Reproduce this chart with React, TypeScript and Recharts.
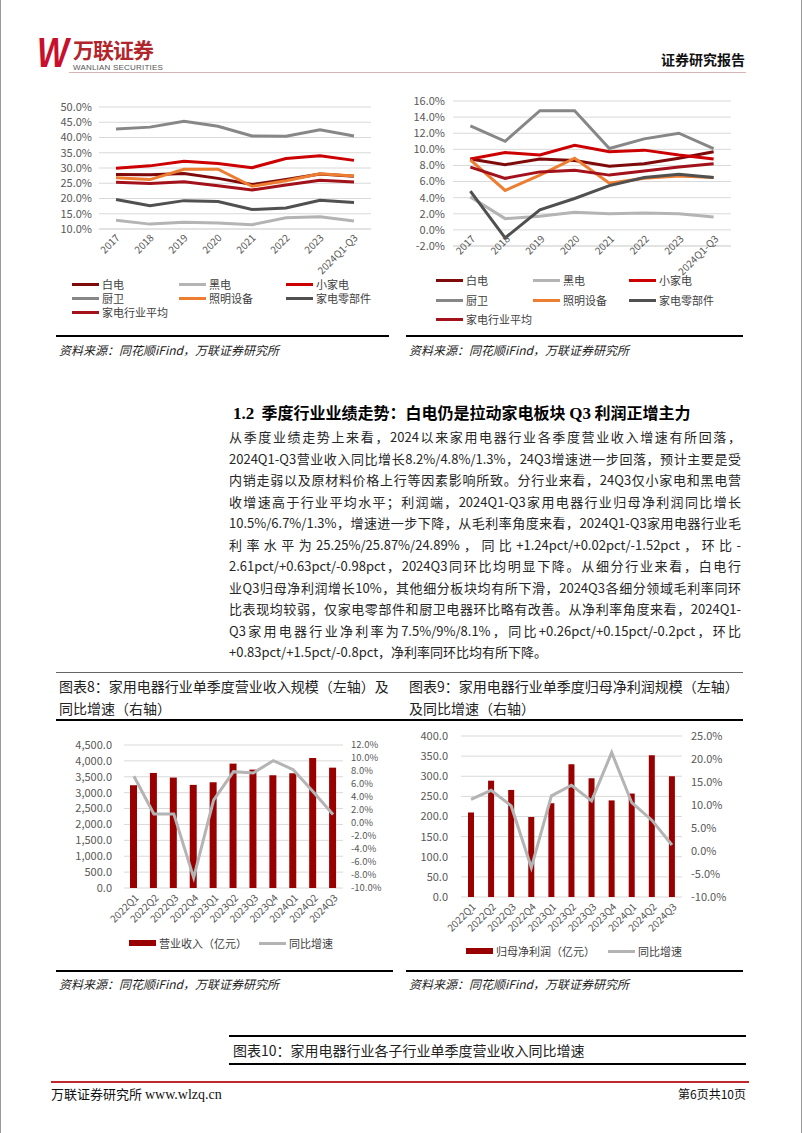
import React from 'react';
import { LineChart, Line, XAxis, YAxis, CartesianGrid, ComposedChart, Bar } from 'recharts';

// ---------- data ----------
const years = ['2017', '2018', '2019', '2020', '2021', '2022', '2023', '2024Q1-Q3'];

const seriesNames = ['白电', '黑电', '小家电', '厨卫', '照明设备', '家电零部件', '家电行业平均'];
const seriesKeys = ['bd', 'hd', 'xjd', 'cw', 'zm', 'lbj', 'avg'];
const seriesColors = ['#7f0a0a', '#b4b4b4', '#cc0000', '#878787', '#ed7d31', '#505050', '#a3111a'];

// gross margin (%)
const grossBaiDian = [27.9, 27.8, 28.2, 26.6, 24.6, 26.2, 28.0, 27.3];
const grossHeiDian = [12.9, 11.6, 12.2, 12.0, 11.4, 13.7, 14.0, 12.6];
const grossXiaoJiaDian = [29.9, 30.7, 32.2, 31.5, 30.1, 33.1, 34.0, 32.5];
const grossChuWei = [42.8, 43.4, 45.3, 43.7, 40.5, 40.4, 42.5, 40.5];
const grossZhaoMing = [26.8, 26.2, 29.6, 29.6, 24.0, 25.8, 28.1, 27.4];
const grossLingBuJian = [19.7, 17.6, 19.3, 19.0, 16.4, 16.9, 19.4, 18.7];
const grossAvg = [25.3, 24.9, 25.5, 24.2, 22.8, 24.4, 26.0, 25.4];

// net margin (%)
const netBaiDian = [8.8, 8.1, 8.8, 8.6, 7.9, 8.2, 8.9, 9.7];
const netHeiDian = [4.1, 1.4, 1.7, 2.2, 2.0, 2.1, 2.0, 1.6];
const netXiaoJiaDian = [8.8, 9.6, 9.3, 10.5, 9.7, 9.9, 9.3, 8.8];
const netChuWei = [12.9, 11.0, 14.8, 14.8, 10.1, 11.3, 12.0, 10.1];
const netZhaoMing = [8.7, 4.9, 6.8, 8.9, 5.8, 6.4, 6.7, 6.5];
const netLingBuJian = [4.8, -1.0, 2.5, 3.9, 5.5, 6.5, 6.9, 6.5];
const netAvg = [7.8, 6.4, 7.2, 7.4, 6.8, 7.3, 7.8, 8.2];

const grossTicks = [10, 15, 20, 25, 30, 35, 40, 45, 50];
const netTicks = [-2, 0, 2, 4, 6, 8, 10, 12, 14, 16];

const quarters = ['2022Q1', '2022Q2', '2022Q3', '2022Q4', '2023Q1', '2023Q2', '2023Q3', '2023Q4', '2024Q1', '2024Q2', '2024Q3'];
const revenue = [3234, 3621, 3475, 3245, 3328, 3914, 3726, 3548, 3611, 4092, 3787];
const revenueYoY = [7.2, 1.4, 1.4, -8.4, 3.5, 7.9, 7.7, 9.6, 8.2, 4.8, 1.3];
const profit = [210, 289, 266, 199, 233, 330, 295, 240, 257, 352, 300];
const profitYoY = [11.2, 13.2, 9.8, -3.6, 12.0, 14.3, 10.9, 21.4, 10.5, 6.7, 1.3];

const revenueTicks = [0, 500, 1000, 1500, 2000, 2500, 3000, 3500, 4000, 4500];
const revenueYoYTicks = [-10, -8, -6, -4, -2, 0, 2, 4, 6, 8, 10, 12];
const profitTicks = [0, 50, 100, 150, 200, 250, 300, 350, 400];
const profitYoYTicks = [-10, -5, 0, 5, 10, 15, 20, 25];

const bodyLines = [
  '从季度业绩走势上来看，2024以来家用电器行业各季度营业收入增速有所回落，',
  '2024Q1-Q3营业收入同比增长8.2%/4.8%/1.3%，24Q3增速进一步回落，预计主要是受',
  '内销走弱以及原材料价格上行等因素影响所致。分行业来看，24Q3仅小家电和黑电营',
  '收增速高于行业平均水平；利润端，2024Q1-Q3家用电器行业归母净利润同比增长',
  '10.5%/6.7%/1.3%，增速进一步下降，从毛利率角度来看，2024Q1-Q3家用电器行业毛',
  '利率水平为25.25%/25.87%/24.89%，同比+1.24pct/+0.02pct/-1.52pct，环比-',
  '2.61pct/+0.63pct/-0.98pct，2024Q3同环比均明显下降。从细分行业来看，白电行',
  '业Q3归母净利润增长10%，其他细分板块均有所下滑，2024Q3各细分领域毛利率同环',
  '比表现均较弱，仅家电零部件和厨卫电器环比略有改善。从净利率角度来看，2024Q1-',
  'Q3家用电器行业净利率为7.5%/9%/8.1%，同比+0.26pct/+0.15pct/-0.2pct，环比',
  '+0.83pct/+1.5pct/-0.8pct，净利率同环比均有所下降。',
];

// ---------- helpers ----------
const FONT = "'Noto Sans CJK SC','Noto Sans',sans-serif";
const AXIS_GREY = '#595959';

function buildRows(cats: string[], list: number[][]) {
  return cats.map((c, i) => {
    const r: any = { cat: c };
    seriesKeys.forEach((k, j) => (r[k] = list[j][i]));
    return r;
  });
}
const grossRows = buildRows(years, [grossBaiDian, grossHeiDian, grossXiaoJiaDian, grossChuWei, grossZhaoMing, grossLingBuJian, grossAvg]);
const netRows = buildRows(years, [netBaiDian, netHeiDian, netXiaoJiaDian, netChuWei, netZhaoMing, netLingBuJian, netAvg]);
const revenueRows = quarters.map((q, i) => ({ cat: q, v: revenue[i], yoy: revenueYoY[i] }));
const profitRows = quarters.map((q, i) => ({ cat: q, v: profit[i], yoy: profitYoY[i] }));

const pct1 = (v: number) => v.toFixed(1) + '%';
const num1 = (v: number) => v.toLocaleString('en-US', { minimumFractionDigits: 1, maximumFractionDigits: 1 });

const makeTick = (ox: number, oy: number) => (props: any) => {
  const { x, y, payload } = props;
  return (
    <g transform={`translate(${x + ox},${y + oy})`}>
      <text textAnchor="end" transform="rotate(-45)" dy="0.35em" fontSize={10} fill={AXIS_GREY} fontFamily={FONT}>
        {payload.value}
      </text>
    </g>
  );
};

const yTick = { fontSize: 11, fill: AXIS_GREY, fontFamily: FONT };
const yTickSmall = { fontSize: 9.5, fill: AXIS_GREY, fontFamily: FONT };

function Abs({ left, top, children, style = {} }: any) {
  return <div style={{ position: 'absolute', left, top, ...style }}>{children}</div>;
}

function HLine({ x1, x2, y, h = 1, color = '#000' }: any) {
  return <div style={{ position: 'absolute', left: x1, top: y - h / 2, width: x2 - x1, height: h, background: color }} />;
}

function LineLegend({ cols, rows }: { cols: number[]; rows: number[] }) {
  return (
    <>
      {seriesNames.map((n, i) => {
        const c = cols[i % 3];
        const r = rows[Math.floor(i / 3)];
        return (
          <div key={n} style={{ position: 'absolute', left: c, top: r - 8, height: 16, display: 'flex', alignItems: 'center' }}>
            <div style={{ width: 27, height: 3, background: seriesColors[i] }} />
            <span style={{ marginLeft: 3, fontSize: 11, color: '#404040', fontFamily: FONT }}>{n}</span>
          </div>
        );
      })}
    </>
  );
}

function ComboLegend({ x1, x2, y, barName }: any) {
  return (
    <>
      <div style={{ position: 'absolute', left: x1, top: y - 8, height: 16, display: 'flex', alignItems: 'center' }}>
        <div style={{ width: 27, height: 6, background: '#990000' }} />
        <span style={{ marginLeft: 3, fontSize: 11, color: '#404040', fontFamily: FONT }}>{barName}</span>
      </div>
      <div style={{ position: 'absolute', left: x2, top: y - 8, height: 16, display: 'flex', alignItems: 'center' }}>
        <div style={{ width: 27, height: 3, background: '#b4b4b4' }} />
        <span style={{ marginLeft: 3, fontSize: 11, color: '#404040', fontFamily: FONT }}>同比增速</span>
      </div>
    </>
  );
}

function Source({ left, y }: any) {
  return (
    <div style={{ position: 'absolute', left, top: y - 9, height: 18, lineHeight: '18px', fontSize: 12, fontStyle: 'italic', color: '#222', fontFamily: FONT }}>
      资料来源：同花顺iFind，万联证券研究所
    </div>
  );
}

export default function App() {
  return (
    <div style={{ position: 'absolute', left: 0, top: 0, width: 802, height: 1133, background: '#fff', fontFamily: FONT, boxSizing: 'border-box', borderLeft: '1px solid #999', borderRight: '1px solid #999', overflow: 'hidden' }}>
      {/* header */}
      <Abs left={36} top={32}>
        <div style={{ fontSize: 42, fontWeight: 900, fontStyle: 'italic', color: '#c8102e', fontFamily: "'Liberation Sans',sans-serif", lineHeight: '42px', transform: 'scaleX(0.8)', transformOrigin: 'left center' }}>W</div>
      </Abs>
      <Abs left={72} top={38}>
        <div style={{ fontSize: 21, fontWeight: 700, color: '#b1262c', lineHeight: '23px', letterSpacing: -1 }}>万联证券</div>
      </Abs>
      <Abs left={72} top={63}>
        <div style={{ fontSize: 8, color: '#555', lineHeight: '9px', fontFamily: "'Liberation Sans',sans-serif", letterSpacing: 0.2 }}>WANLIAN SECURITIES</div>
      </Abs>
      <HLine x1={68} x2={745} y={72} h={1} color="#d7b4b6" />
      <Abs left={660} top={50}>
        <div style={{ fontSize: 14, fontWeight: 700, color: '#111', lineHeight: '18px' }}>证券研究报告</div>
      </Abs>

      {/* chart 1: gross margin */}
      <Abs left={40} top={95}>
        <LineChart width={345} height={190} data={grossRows} margin={{ top: 12, right: 15, bottom: 0, left: 0 }}>
          <CartesianGrid vertical={false} stroke="#d9d9d9" />
          <XAxis dataKey="cat" scale="band" interval={0} axisLine={{ stroke: '#d9d9d9' }} tickLine={false} tickSize={0} tickMargin={0} height={56} tick={makeTick(2, 7)} />
          <YAxis domain={[10, 50]} ticks={grossTicks} interval={0} tickFormatter={pct1} width={58} axisLine={false} tickLine={false} tickSize={0} tickMargin={7} tick={yTick} />
          {seriesKeys.map((k, i) => (
            <Line key={k} dataKey={k} name={seriesNames[i]} stroke={seriesColors[i]} strokeWidth={3} dot={false} type="linear" isAnimationActive={false} />
          ))}
        </LineChart>
      </Abs>
      <LineLegend cols={[71, 178, 285]} rows={[284, 298, 312]} />

      {/* chart 2: net margin */}
      <Abs left={395} top={90}>
        <LineChart width={350} height={200} data={netRows} margin={{ top: 11, right: 15, bottom: 0, left: 0 }}>
          <CartesianGrid vertical={false} stroke="#d9d9d9" />
          <XAxis dataKey="cat" scale="band" interval={0} axisLine={{ stroke: '#d9d9d9' }} tickLine={false} tickSize={0} tickMargin={0} height={44} tick={makeTick(3, -9)} />
          <YAxis domain={[-2, 16]} ticks={netTicks} interval={0} tickFormatter={pct1} width={57} axisLine={false} tickLine={false} tickSize={0} tickMargin={8} tick={yTick} />
          {seriesKeys.map((k, i) => (
            <Line key={k} dataKey={k} name={seriesNames[i]} stroke={seriesColors[i]} strokeWidth={3} dot={false} type="linear" isAnimationActive={false} />
          ))}
        </LineChart>
      </Abs>
      <LineLegend cols={[435, 532, 628]} rows={[280, 300, 319]} />

      <HLine x1={55} x2={388} y={336} h={2} />
      <HLine x1={405} x2={742} y={336} h={2} />
      <Source left={58} y={350} />
      <Source left={408} y={350} />

      {/* section heading & body */}
      <Abs left={232} top={402}>
        <div style={{ fontSize: 16, fontWeight: 700, color: '#000', lineHeight: '20px', whiteSpace: 'nowrap' }}>
          <span style={{ fontFamily: "'Liberation Serif',serif", fontSize: 17 }}>1.2</span>
          &nbsp; 季度行业业绩走势：白电仍是拉动家电板块 <span style={{ fontFamily: "'Liberation Serif',serif", fontSize: 17 }}>Q3</span> 利润正增主力
        </div>
      </Abs>
      <Abs left={228} top={426}>
        {bodyLines.map((t, i) => (
          <div
            key={i}
            style={{
              width: 512,
              height: 21.5,
              lineHeight: '21.5px',
              fontSize: 13,
              color: '#262626',
              textAlign: 'justify',
              textAlignLast: i === bodyLines.length - 1 ? 'left' : 'justify',
              overflow: 'hidden',
            }}
          >
            {t}
          </div>
        ))}
      </Abs>

      {/* figure 8 / 9 titles */}
      <HLine x1={55} x2={742} y={672} h={1} color="#666" />
      <Abs left={58} top={675}>
        <div style={{ fontSize: 14, lineHeight: '22px', color: '#222', width: 335 }}>
          图表8：家用电器行业单季度营业收入规模（左轴）及<br />同比增速（右轴）
        </div>
      </Abs>
      <Abs left={408} top={675}>
        <div style={{ fontSize: 14, lineHeight: '22px', color: '#222', width: 335 }}>
          图表9：家用电器行业单季度归母净利润规模（左轴）<br />及同比增速（右轴）
        </div>
      </Abs>
      <HLine x1={55} x2={742} y={720} h={2} />

      {/* chart 3: revenue */}
      <Abs left={55} top={735}>
        <ComposedChart width={340} height={200} data={revenueRows} margin={{ top: 10, right: 0, bottom: 0, left: 0 }}>
          <CartesianGrid vertical={false} stroke="#d9d9d9" yAxisId="l" />
          <XAxis dataKey="cat" interval={0} axisLine={false} tickLine={false} tickSize={0} tickMargin={0} height={47} tick={makeTick(3, 8)} />
          <YAxis yAxisId="l" domain={[0, 4500]} ticks={revenueTicks} interval={0} tickFormatter={num1} width={68} axisLine={false} tickLine={false} tickSize={0} tickMargin={12} tick={yTick} />
          <YAxis yAxisId="r" orientation="right" domain={[-10, 12]} ticks={revenueYoYTicks} interval={0} tickFormatter={pct1} width={53} axisLine={false} tickLine={false} tickSize={0} tickMargin={8} tick={yTickSmall} />
          <Bar yAxisId="l" dataKey="v" name="营业收入（亿元）" fill="#990000" barSize={7} isAnimationActive={false} />
          <Line yAxisId="r" dataKey="yoy" name="同比增速" stroke="#b4b4b4" strokeWidth={3} dot={false} type="linear" isAnimationActive={false} />
        </ComposedChart>
      </Abs>
      <ComboLegend x1={128} x2={258} y={943} barName="营业收入（亿元）" />

      {/* chart 4: profit */}
      <Abs left={400} top={726}>
        <ComposedChart width={345} height={210} data={profitRows} margin={{ top: 10, right: 0, bottom: 0, left: 0 }}>
          <CartesianGrid vertical={false} stroke="#d9d9d9" yAxisId="l" />
          <XAxis dataKey="cat" interval={0} axisLine={false} tickLine={false} tickSize={0} tickMargin={0} height={39} tick={makeTick(3, 8)} />
          <YAxis yAxisId="l" domain={[0, 400]} ticks={profitTicks} interval={0} tickFormatter={num1} width={60} axisLine={false} tickLine={false} tickSize={0} tickMargin={13} tick={yTick} />
          <YAxis yAxisId="r" orientation="right" domain={[-10, 25]} ticks={profitYoYTicks} interval={0} tickFormatter={pct1} width={64} axisLine={false} tickLine={false} tickSize={0} tickMargin={9} tick={yTick} />
          <Bar yAxisId="l" dataKey="v" name="归母净利润（亿元）" fill="#990000" barSize={6} isAnimationActive={false} />
          <Line yAxisId="r" dataKey="yoy" name="同比增速" stroke="#b4b4b4" strokeWidth={3} dot={false} type="linear" isAnimationActive={false} />
        </ComposedChart>
      </Abs>
      <ComboLegend x1={465} x2={607} y={951} barName="归母净利润（亿元）" />

      <HLine x1={55} x2={392} y={971} h={2} />
      <HLine x1={405} x2={742} y={971} h={2} />
      <Source left={58} y={984} />
      <Source left={408} y={984} />

      {/* figure 10 title */}
      <HLine x1={228} x2={745} y={1036} h={2} />
      <Abs left={232} top={1039}>
        <div style={{ fontSize: 14, lineHeight: '22px', color: '#222' }}>图表10：家用电器行业各子行业单季度营业收入同比增速</div>
      </Abs>
      <HLine x1={228} x2={745} y={1064} h={2} />

      {/* footer */}
      <HLine x1={50} x2={748} y={1082} h={2} color="#c0282e" />
      <Abs left={50} top={1085}>
        <div style={{ fontSize: 13, lineHeight: '18px', color: '#111' }}>
          万联证券研究所 <span style={{ fontFamily: "'Liberation Serif',serif", fontSize: 14 }}>www.wlzq.cn</span>
        </div>
      </Abs>
      <Abs left={665} top={1086}>
        <div style={{ fontSize: 12, lineHeight: '16px', color: '#111', width: 80, textAlign: 'right' }}>第6页共10页</div>
      </Abs>
    </div>
  );
}
